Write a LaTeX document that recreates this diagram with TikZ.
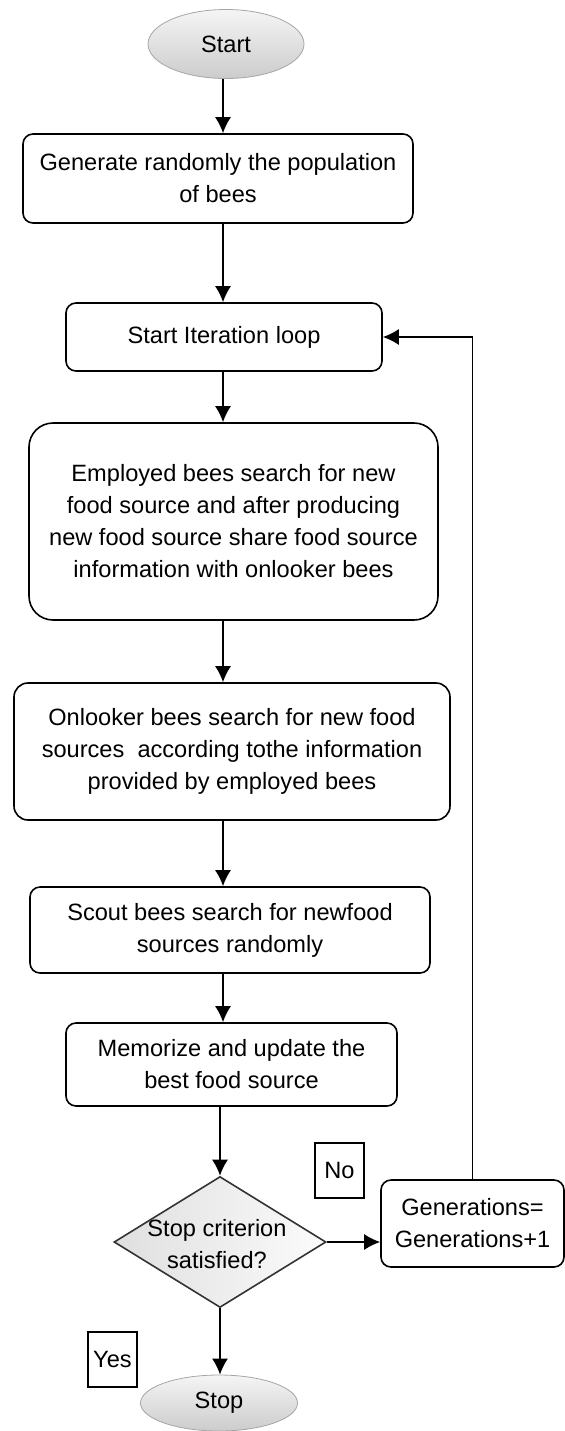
\documentclass[tikz,border=0pt]{standalone}
\usepackage{fontspec}
\setmainfont{Liberation Sans}
\usetikzlibrary{shapes.geometric,arrows.meta}
\begin{document}
\begin{tikzpicture}[
    x=0.5pt,y=-0.5pt,
    >={Latex[length=8pt,width=8pt]},
    font=\fontsize{11.8}{16}\selectfont,
    box/.style={
      draw,thick,rounded corners=5pt,align=center,inner sep=0pt
    },
    term/.style={
      draw=gray!70,ellipse,top color=gray!8,bottom color=gray!40,inner sep=0pt
    },
    tag/.style={
      draw,thick,inner sep=0pt,minimum width=24.5pt,minimum height=27.5pt
    },
  ]
  \useasboundingbox (0,0) rectangle (565,1431);
  \coordinate (spine) at (223,0);
  \node[term,minimum width=78pt,minimum height=34.5pt] (start) at (226,44) {Start};
  \node[box,minimum width=195pt,minimum height=44.5pt] (gen) at (218,178.5)
    {Generate randomly the population\\of bees};
  \node[box,minimum width=158pt,minimum height=34pt] (loop) at (224,337)
    {Start Iteration loop};
  \node[box,rounded corners=12pt,minimum width=204.5pt,minimum height=98.5pt] (employed) at (233.5,521.5)
    {Employed bees search for new\\food source and after producing\\new food source share food source\\information with onlooker bees};
  \node[box,rounded corners=7pt,minimum width=218pt,minimum height=68.5pt] (onlooker) at (232,751.5)
    {Onlooker bees search for new food\\sources\ \ according tothe information\\provided by employed bees};
  \node[box,minimum width=200pt,minimum height=43pt] (scout) at (230,930)
    {Scout bees search for newfood\\sources randomly};
  \node[box,minimum width=165.5pt,minimum height=41.5pt] (memo) at (231.5,1064.5)
    {Memorize and update the\\best food source};
  \node[draw=black!80,thick,diamond,left color=gray!25,right color=gray!3,
    minimum width=106pt,minimum height=65.5pt,inner sep=0pt] (dia) at (220,1242) {};
  \node[align=center] (diatext) at (217,1244) {Stop criterion\\satisfied?};
  \node[box,minimum width=91.5pt,minimum height=43.5pt] (gens) at (472.5,1223.5)
    {Generations=\\Generations+1};
  \node[term,minimum width=78.5pt,minimum height=28pt] (stop) at (219,1403) {Stop};
  \node[tag] (no) at (339.5,1170.5) {No};
  \node[tag] (yes) at (112.5,1359.5) {Yes};
  \draw[thick,->] (start.south -| spine) -- (gen.north -| spine);
  \draw[thick,->] (gen.south -| spine) -- (loop.north -| spine);
  \draw[thick,->] (loop.south -| spine) -- (employed.north -| spine);
  \draw[thick,->] (employed.south -| spine) -- (onlooker.north -| spine);
  \draw[thick,->] (onlooker.south -| spine) -- (scout.north -| spine);
  \draw[thick,->] (scout.south -| spine) -- (memo.north -| spine);
  \draw[thick,->] (memo.south -| dia.north) -- (dia.north);
  \draw[thick,->] (dia.south) -- (dia.south |- stop.north);
  \draw[thick,->] (dia.east) -- (dia.east -| gens.west);
  \draw[thick,->] (gens.north) |- (loop.east);
\end{tikzpicture}
\end{document}
